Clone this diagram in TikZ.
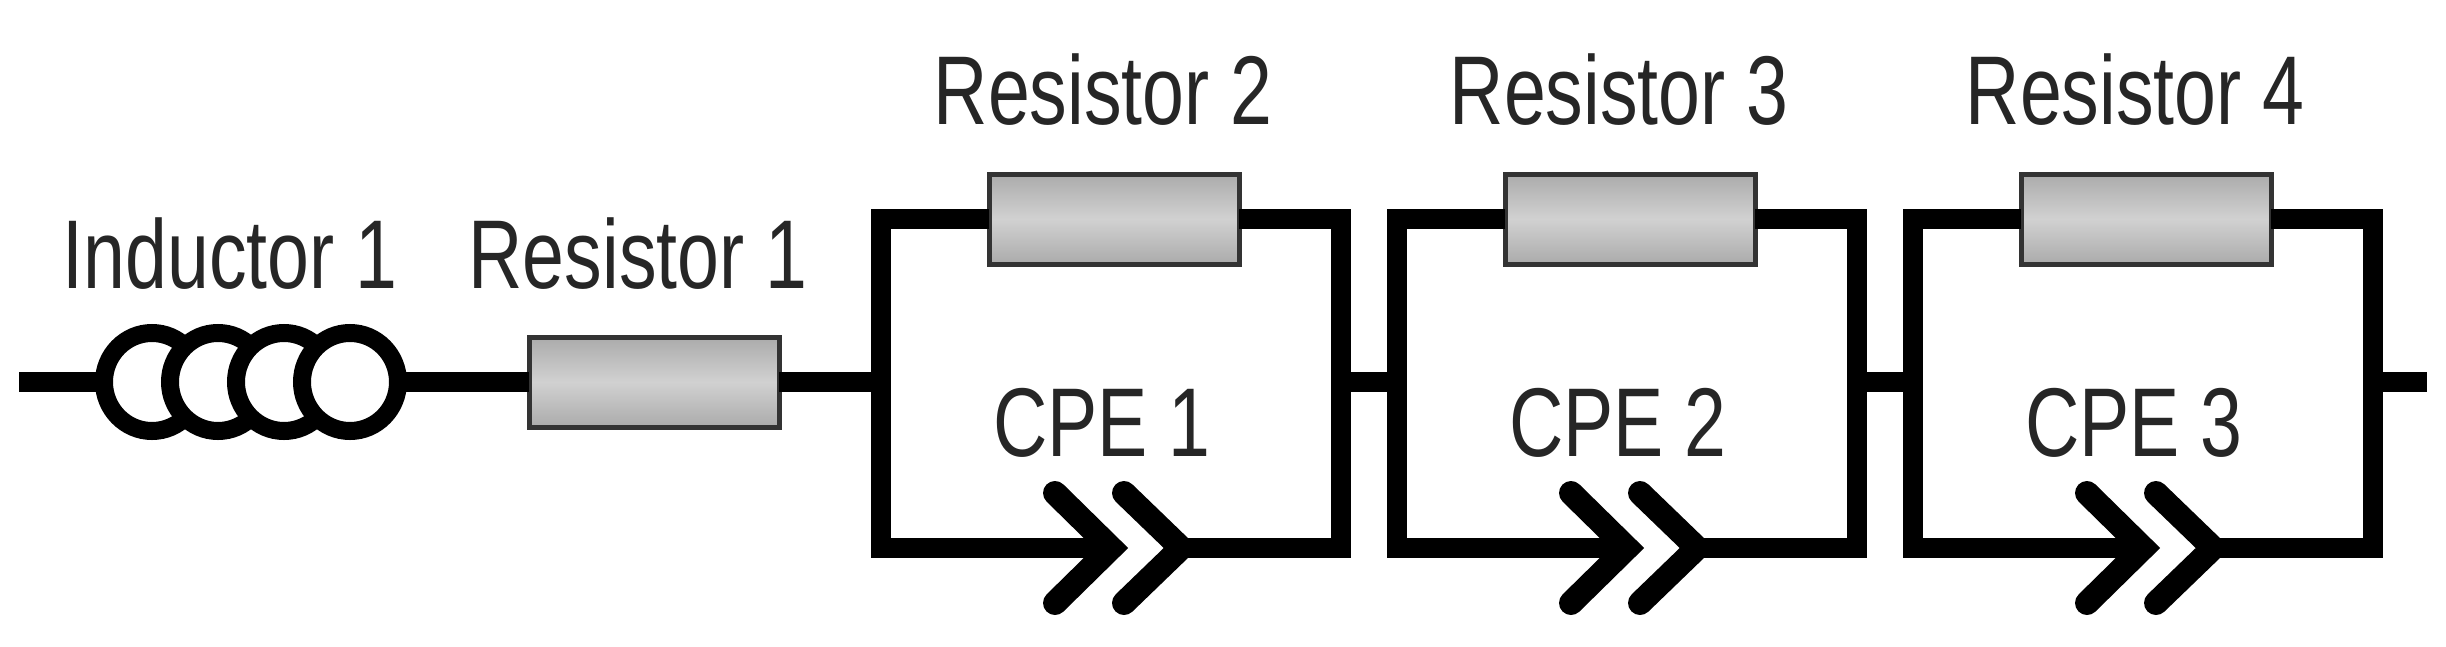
\documentclass[tikz,border=0pt]{standalone}
\usepackage{fontspec}
\setmainfont[FakeStretch=0.77]{Liberation Sans}
\usetikzlibrary{shapes.geometric}
\tikzset{
	wire/.style={line width=0.2cm, line join=miter},
	coil/.style={ellipse, draw, line width=0.18cm, fill=white, inner sep=0, outer sep=0, minimum width=0.96cm, minimum height=0.98cm},
	resbox/.style={rectangle, draw=black!80, line width=0.05cm, top color=black!33, bottom color=black!33, middle color=black!18, inner sep=0, outer sep=0, minimum width=2.5cm, minimum height=0.9cm},
	chevron/.style={line width=0.24cm, line cap=round, line join=miter},
	lab/.style={anchor=base, text=black!85, font=\fontsize{27.8}{30}\selectfont, inner sep=0}
}
\begin{document}
\begin{tikzpicture}
	\useasboundingbox (0,0) rectangle (24.46,6.46);
	
	% Inductor and first resistor
	\coordinate (wirestart) at (0.19,2.64);
	\foreach \x/\n in {1.52/1,2.18/2,2.84/3,3.50/4} {
		\node (coil\n) at (\x,2.64) [coil] {};
	}
	\node (res1) at (6.54,2.64) [resbox] {};
	\coordinate (left1) at (8.81,2.64);
	\draw [wire] (wirestart) -- (coil1);
	\draw [wire] (coil4) -- (res1);
	\draw [wire] (res1) -- (left1);
	\node (inductorlab) at (2.30,3.58) [lab] {Inductor 1};
	\node (res1lab) at (6.38,3.58) [lab] {Resistor 1};
	
	% Parallel sections
	\foreach \x/\n/\m in {8.81/2/1,13.97/3/2,19.13/4/3} {
		\begin{scope}[shift={(\x,0)}]
			\coordinate (left\m) at (0,2.64);
			\coordinate (right\m) at (4.60,2.64);
			\coordinate (topl\m) at (0,4.27);
			\coordinate (topr\m) at (4.60,4.27);
			\coordinate (botl\m) at (0,0.98);
			\coordinate (botr\m) at (4.60,0.98);
			\coordinate (tipa\m) at (2.30,0.98);
			\coordinate (tipb\m) at (3.00,0.98);
			\node (res\n) at (2.33,4.27) [resbox] {};
			\node (res\n lab) at (2.22,5.22) [lab] {Resistor \n};
			\node (cpe\m lab) at (2.21,1.90) [lab] {CPE \m};
			\draw [wire] (res\n.west) -- (topl\m) -- (botl\m) -- (tipa\m);
			\draw [wire] (res\n.east) -- (topr\m) -- (botr\m) -- (tipb\m);
			% CPE symbol
			\draw [chevron] (1.74,1.53) -- (tipa\m) -- (1.74,0.43);
			\draw [chevron] (2.43,1.53) -- (tipb\m) -- (2.43,0.43);
		\end{scope}
	}
	\coordinate (wireend) at (24.27,2.64);
	\draw [wire] (right1) -- (left2);
	\draw [wire] (right2) -- (left3);
	\draw [wire] (right3) -- (wireend);
\end{tikzpicture}
\end{document}
